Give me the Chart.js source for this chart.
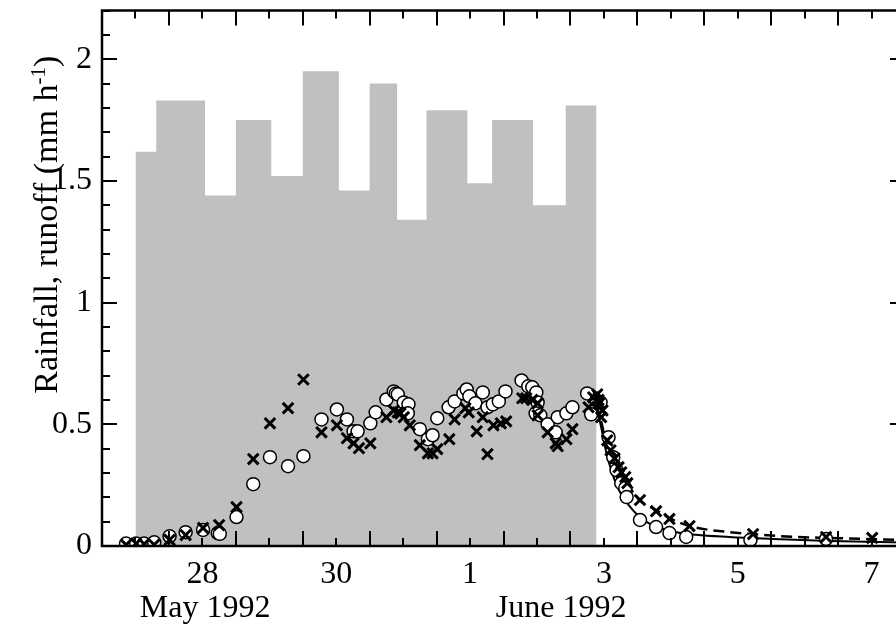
<!DOCTYPE html>
<html>
<head>
<meta charset="utf-8">
<script src="https://cdn.jsdelivr.net/npm/chart.js@4.4.1/dist/chart.umd.min.js"></script>
<style>
  html, body { margin: 0; padding: 0; background: #fff; overflow: hidden; }
  canvas { display: block; }
</style>
</head>
<body>
<canvas id="runoffChart" width="920" height="629"></canvas>
<script>
// time axis: days since 27 May 1992 00:00
const xTickDays = [1.5, 3.5, 5.5, 7.5, 9.5, 11.5];
const xTickLabels = ['28', '30', '1', '3', '5', '7'];
const yTickValues = [0, 0.5, 1, 1.5, 2];

// rainfall intensity (mm/h), each value holds from one edge to the next
const rainEdges = [0.50, 0.81, 1.54, 2.00, 2.53, 3.00, 3.54, 4.00, 4.41, 4.85, 5.46, 5.83, 6.44, 6.93, 7.39];
const rainRate = [1.62, 1.83, 1.44, 1.75, 1.52, 1.95, 1.46, 1.90, 1.34, 1.79, 1.49, 1.75, 1.40, 1.81];

// runoff, open circles
const circleDay = [0.36, 0.51, 0.63, 0.78, 1.01, 1.25, 1.51, 1.73, 1.76, 2.01, 2.26, 2.51, 2.78, 3.01,
  3.28, 3.51, 3.66, 3.76, 3.82, 4.01, 4.09, 4.25, 4.36, 4.39, 4.42, 4.51, 4.58, 4.57, 4.75, 4.87,
  4.94, 5.01, 5.18, 5.27, 5.40, 5.45, 5.49, 5.58, 5.69, 5.76, 5.84, 5.93, 6.03, 6.27, 6.37, 6.43,
  6.49, 6.51, 6.48, 6.55, 6.66, 6.78, 6.81, 6.94, 7.03, 7.25, 7.31, 7.39, 7.45,
  7.57, 7.64, 7.69, 7.76, 7.82, 7.84, 8.04, 8.28, 8.48, 8.73, 9.69, 10.82];
const circleRunoff = [0.01, 0.01, 0.01, 0.015, 0.04, 0.057, 0.066, 0.053, 0.05, 0.119, 0.254, 0.365, 0.328, 0.369,
  0.52, 0.561, 0.52, 0.471, 0.471, 0.504, 0.549, 0.602, 0.635, 0.627, 0.623, 0.590, 0.582, 0.545, 0.48, 0.439,
  0.455, 0.525, 0.570, 0.594, 0.627, 0.643, 0.615, 0.586, 0.631, 0.57, 0.582, 0.594, 0.635, 0.68, 0.656, 0.652,
  0.631, 0.590, 0.545, 0.537, 0.5, 0.467, 0.529, 0.545, 0.57, 0.627, 0.541, 0.598, 0.59,
  0.447, 0.365, 0.311, 0.258, 0.238, 0.201, 0.107, 0.078, 0.053, 0.037, 0.025, 0.029];

// runoff, crosses
const crossDay = [0.36, 0.51, 0.63, 0.78, 1.01, 1.25, 1.51, 1.75, 2.01, 2.26, 2.51, 2.78, 3.01, 3.28,
  3.51, 3.66, 3.76, 3.84, 4.01, 4.25, 4.36, 4.42, 4.46, 4.51, 4.60, 4.75, 4.87, 4.94, 5.01, 5.19,
  5.27, 5.43, 5.48, 5.60, 5.69, 5.76, 5.85, 5.96, 6.04, 6.28, 6.34, 6.43, 6.51, 6.51, 6.66, 6.78,
  6.81, 6.94, 7.03, 7.27, 7.34, 7.40, 7.42, 7.43, 7.46, 7.48,
  7.55, 7.60, 7.66, 7.72, 7.76, 7.82, 7.85, 8.04, 8.28, 8.48, 8.78, 9.73, 10.82, 11.51];
const crossRunoff = [0.005, 0.01, 0.008, 0.005, 0.025, 0.045, 0.074, 0.086, 0.160, 0.357, 0.504, 0.566, 0.684, 0.467,
  0.496, 0.443, 0.422, 0.402, 0.422, 0.529, 0.557, 0.549, 0.545, 0.529, 0.496, 0.414, 0.381, 0.381, 0.398, 0.439,
  0.52, 0.566, 0.549, 0.471, 0.529, 0.377, 0.496, 0.504, 0.512, 0.607, 0.607, 0.6, 0.586, 0.537, 0.467, 0.422,
  0.41, 0.439, 0.48, 0.570, 0.611, 0.623, 0.60, 0.586, 0.529, 0.557,
  0.434, 0.393, 0.36, 0.324, 0.303, 0.283, 0.258, 0.189, 0.143, 0.111, 0.082, 0.049, 0.037, 0.033];

// recession curves after the rain stops
const solidDay = [7.39, 7.45, 7.54, 7.69, 7.88, 8.13, 8.48, 8.88, 9.37, 10.03, 10.87, 12.0];
const solidRunoff = [0.57, 0.50, 0.38, 0.25, 0.165, 0.10, 0.063, 0.046, 0.037, 0.029, 0.021, 0.014];
const dashedDay = [7.39, 7.47, 7.54, 7.69, 7.88, 8.03, 8.28, 8.48, 8.78, 9.37, 9.73, 10.37, 10.87, 12.0];
const dashedRunoff = [0.58, 0.50, 0.41, 0.324, 0.242, 0.189, 0.148, 0.115, 0.082, 0.057, 0.049, 0.037, 0.033, 0.024];

const monthLabels = [
  { day: 1.54, text: 'May 1992' },
  { day: 6.86, text: 'June 1992' }
];

const SERIF = '"Liberation Serif", "Times New Roman", serif';

function toPoints(xs, ys) {
  return xs.map((x, i) => ({ x: x, y: ys[i] }));
}

function rainPoints() {
  const pts = [{ x: rainEdges[0], y: 0 }];
  rainRate.forEach((r, i) => pts.push({ x: rainEdges[i], y: r }));
  pts.push({ x: rainEdges[rainEdges.length - 1], y: 0 });
  return pts;
}

// frame with inward ticks on all four sides, month labels and y title
const framePlugin = {
  id: 'frame',
  afterDatasetsDraw(chart) {
    const ctx = chart.ctx;
    const a = chart.chartArea;
    const xs = chart.scales.x;
    const ys = chart.scales.y;
    ctx.save();
    ctx.strokeStyle = '#000';
    ctx.lineCap = 'butt';

    ctx.lineWidth = 2;
    ctx.beginPath();
    for (let d = 0; d <= 12; d += 0.5) {
      const px = Math.round(xs.getPixelForValue(d));
      const len = Number.isInteger(d) ? 15 : 8;
      ctx.moveTo(px, a.bottom); ctx.lineTo(px, a.bottom - len);
      ctx.moveTo(px, a.top); ctx.lineTo(px, a.top + len);
    }
    for (let k = 0; k <= 22; k++) {
      const py = Math.round(ys.getPixelForValue(k / 10));
      const len = k % 5 === 0 ? 15 : 8;
      ctx.moveTo(a.left, py); ctx.lineTo(a.left + len, py);
      ctx.moveTo(a.right, py); ctx.lineTo(a.right - len, py);
    }
    ctx.stroke();

    ctx.lineWidth = 2.5;
    ctx.strokeRect(a.left, a.top, a.right - a.left, a.bottom - a.top);

    ctx.fillStyle = '#000';
    ctx.textAlign = 'center';
    ctx.textBaseline = 'alphabetic';
    ctx.font = '32px ' + SERIF;
    monthLabels.forEach(m => {
      ctx.fillText(m.text, xs.getPixelForValue(m.day), a.bottom + 71);
    });

    // y axis title with superscript
    const main = 'Rainfall, runoff (mm h';
    const sup = '-1';
    const tail = ')';
    ctx.font = '34px ' + SERIF;
    const w1 = ctx.measureText(main).width;
    const w3 = ctx.measureText(tail).width;
    ctx.font = '21px ' + SERIF;
    const w2 = ctx.measureText(sup).width;
    const total = w1 + w2 + w3;
    ctx.translate(57, ys.getPixelForValue(1.32));
    ctx.rotate(-Math.PI / 2);
    ctx.textAlign = 'left';
    const x0 = -total / 2;
    ctx.font = '34px ' + SERIF;
    ctx.fillText(main, x0, 0);
    ctx.font = '21px ' + SERIF;
    ctx.fillText(sup, x0 + w1, -12);
    ctx.font = '34px ' + SERIF;
    ctx.fillText(tail, x0 + w1 + w2, 0);
    ctx.restore();
  }
};

const ctx = document.getElementById('runoffChart').getContext('2d');
new Chart(ctx, {
  type: 'scatter',
  data: {
    datasets: [
      {
        type: 'line',
        label: 'Rainfall',
        data: rainPoints(),
        stepped: 'before',
        fill: 'origin',
        backgroundColor: '#c0c0c0',
        borderWidth: 0,
        pointRadius: 0,
        order: 4
      },
      {
        type: 'line',
        label: 'Fit 1',
        data: toPoints(solidDay, solidRunoff),
        borderColor: '#000',
        borderWidth: 2,
        pointRadius: 0,
        fill: false,
        cubicInterpolationMode: 'monotone',
        order: 3
      },
      {
        type: 'line',
        label: 'Fit 2',
        data: toPoints(dashedDay, dashedRunoff),
        borderColor: '#000',
        borderWidth: 2.5,
        borderDash: [11, 6],
        pointRadius: 0,
        fill: false,
        cubicInterpolationMode: 'monotone',
        order: 2
      },
      {
        label: 'Runoff A',
        data: toPoints(circleDay, circleRunoff),
        pointStyle: 'circle',
        pointRadius: 6.5,
        backgroundColor: '#fff',
        borderColor: '#000',
        borderWidth: 1.5,
        order: 1
      },
      {
        label: 'Runoff B',
        data: toPoints(crossDay, crossRunoff),
        pointStyle: 'crossRot',
        pointRadius: 7.5,
        borderColor: '#000',
        borderWidth: 3,
        order: 0
      }
    ]
  },
  options: {
    responsive: false,
    animation: false,
    layout: { padding: { top: 9, right: 15, left: 0, bottom: 0 } },
    plugins: {
      legend: { display: false },
      tooltip: { enabled: false }
    },
    scales: {
      x: {
        type: 'linear',
        min: 0,
        max: 12,
        grid: { display: false, drawTicks: false },
        border: { display: false },
        afterBuildTicks: scale => {
          scale.ticks = xTickDays.map(v => ({ value: v }));
        },
        afterFit: scale => { scale.height = 83; },
        ticks: {
          autoSkip: false,
          maxRotation: 0,
          padding: 9,
          color: '#000',
          font: { family: SERIF, size: 32 },
          callback: (value, index) => xTickLabels[index]
        }
      },
      y: {
        type: 'linear',
        min: 0,
        max: 2.2,
        grid: { display: false, drawTicks: false },
        border: { display: false },
        afterBuildTicks: scale => {
          scale.ticks = yTickValues.map(v => ({ value: v }));
        },
        afterFit: scale => {
          // top label sits below the axis end, so no extra room is needed
          scale.width = 102;
          scale.paddingTop = 0;
          scale.paddingBottom = 0;
        },
        ticks: {
          padding: 10,
          color: '#000',
          font: { family: SERIF, size: 32 },
          callback: value => String(value)
        }
      }
    }
  },
  plugins: [framePlugin]
});
</script>
</body>
</html>
